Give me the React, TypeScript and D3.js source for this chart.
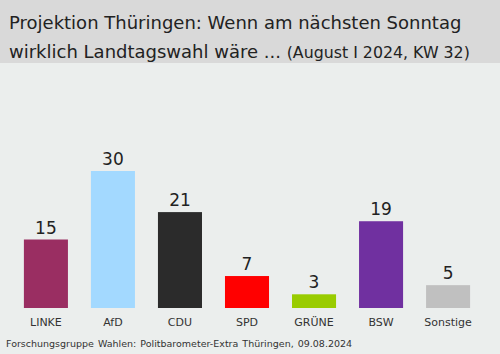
import { useMemo } from "react";
import { scaleBand, scaleLinear } from "d3";

const categories = ["LINKE", "AfD", "CDU", "SPD", "GRÜNE", "BSW", "Sonstige"];
const values = [15, 30, 21, 7, 3, 19, 5];
const colors = ["#9a2e62", "#a3d9ff", "#2b2b2b", "#ff0000", "#99cc00", "#7030a0", "#c0c0c0"];

const W = 500;
const H = 354;
const FONT = "'DejaVu Sans', Verdana, sans-serif";

export default function App() {
  const x = useMemo(
    () => scaleBand<string>().domain(categories).range([12.5, 481.5]).paddingInner(0.343).paddingOuter(0.17),
    []
  );
  const y = useMemo(() => scaleLinear().domain([0, 30]).range([308, 171]), []);

  return (
    <svg width={W} height={H} style={{ position: "absolute", left: 0, top: 0, fontFamily: FONT }}>
      <rect x={0} y={0} width={W} height={H} fill="#ebeeed" />
      <rect x={0} y={0} width={W} height={63} fill="#d9d9d9" />
      <text x={9} y={28.5} fontSize={18} fill="#222">
        Projektion Thüringen: Wenn am nächsten Sonntag
      </text>
      <text x={9} y={58} fontSize={18} fill="#222">
        wirklich Landtagswahl wäre ...{" "}
        <tspan fontSize={15.8}>(August I 2024, KW 32)</tspan>
      </text>
      {categories.map((c, i) => {
        const bx = x(c)!;
        const cx = bx + x.bandwidth() / 2;
        return (
          <g key={c}>
            <rect x={bx} y={y(values[i])} width={x.bandwidth()} height={y(0) - y(values[i])} fill={colors[i]} />
            <text x={cx} y={y(values[i]) - 6} fontSize={17} textAnchor="middle" fill="#222">
              {values[i]}
            </text>
            <text x={cx} y={326} fontSize={11} textAnchor="middle" fill="#333">
              {c}
            </text>
          </g>
        );
      })}
      <text x={6} y={347} fontSize={9.5} fill="#333" wordSpacing={1}>
        Forschungsgruppe Wahlen: Politbarometer-Extra Thüringen, 09.08.2024
      </text>
    </svg>
  );
}
